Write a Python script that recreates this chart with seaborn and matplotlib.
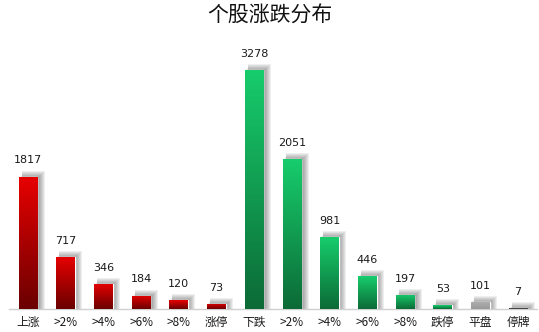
import numpy as np
import pandas as pd
import matplotlib
matplotlib.use("Agg")
import matplotlib.pyplot as plt
from matplotlib.colors import LinearSegmentedColormap
import seaborn as sns

categories = ["上涨", ">2%", ">4%", ">6%", ">8%", "涨停", "下跌", ">2%", ">4%", ">6%", ">8%", "跌停", "平盘", "停牌"]
values = [1817, 717, 346, 184, 120, 73, 3278, 2051, 981, 446, 197, 53, 101, 7]
groups = ["up"] * 6 + ["down"] * 6 + ["flat", "halt"]
title = "个股涨跌分布"

grad = {
    "up": ("#E80000", "#6A0000"),
    "down": ("#17CD6C", "#0C6A36"),
    "flat": ("#B0B0B0", "#9A9A9A"),
    "halt": ("#505050", "#303030"),
}

sns.set_theme(style="white")
plt.rcParams["font.family"] = ["Noto Sans CJK SC", "DejaVu Sans"]

fig = plt.figure(figsize=(5.39, 3.32), dpi=100)
W, H = 539, 332
base_px = 309
top_px = 46.5
ax = fig.add_axes([9 / W, (H - base_px) / H, (537 - 9) / W, (base_px - top_px) / H])

df = pd.DataFrame({"pos": [str(i) for i in range(len(values))], "value": values})
sns.barplot(data=df, x="pos", y="value", ax=ax, width=0.49, color="#cccccc", errorbar=None)

ax.set_xlim(-0.5, len(values) - 0.5)
ax.set_ylim(0, 3600)
ax_w_px = 537 - 9
ax_h_px = base_px - top_px
xpp = len(values) / ax_w_px
ypp = 3600 / ax_h_px

bars = list(ax.patches)
for i, (p, g) in enumerate(zip(bars, groups)):
    x0, w, h = p.get_x(), p.get_width(), p.get_height()
    # soft shadow, toward upper right
    for r in np.arange(1, 7, 1.0):
        sx0 = x0 + min(r, 3) * xpp
        sw = w + (r - min(r, 3)) * xpp + 1.5 * xpp
        sh_h = h + r * ypp
        ax.add_patch(plt.Rectangle((sx0, 0), sw, sh_h, facecolor="#303030",
                                   edgecolor="none", alpha=0.08, zorder=1))
    top_c, bot_c = grad[g]
    cmap = LinearSegmentedColormap.from_list("g%d" % i, [bot_c, top_c])
    gradient = np.linspace(0, 1, 256).reshape(-1, 1)
    im = ax.imshow(gradient, aspect="auto", cmap=cmap, origin="lower",
                   extent=[x0, x0 + w, 0, max(h, 1)], zorder=3)
    p.set_facecolor("none")
    p.set_zorder(3)
    im.set_clip_path(p)
    ax.annotate(str(values[i]), (x0 + w / 2, h), xytext=(0, 8), textcoords="offset points",
                ha="center", va="bottom", fontsize=8, color="#1a1a1a",
                family=["DejaVu Sans"])

ax.set_xlim(-0.5, len(values) - 0.5)
ax.set_ylim(0, 3600)
ax.set_aspect("auto")

ax.set_xticks(range(len(values)))
ax.set_xticklabels(categories, fontsize=8.5, color="#1a1a1a")
ax.tick_params(axis="x", length=0, pad=5)
ax.set_yticks([])
ax.set_xlabel("")
ax.set_ylabel("")
for s in ["top", "left", "right"]:
    ax.spines[s].set_visible(False)
ax.spines["bottom"].set_color("#d0d0d0")
ax.spines["bottom"].set_linewidth(1)
ax.set_facecolor("none")

fig.text(0.5, 1 - 16 / H, title, ha="center", va="center", fontsize=15,
         fontweight="light", color="#111111")

fig.savefig("out.png", dpi=100)
